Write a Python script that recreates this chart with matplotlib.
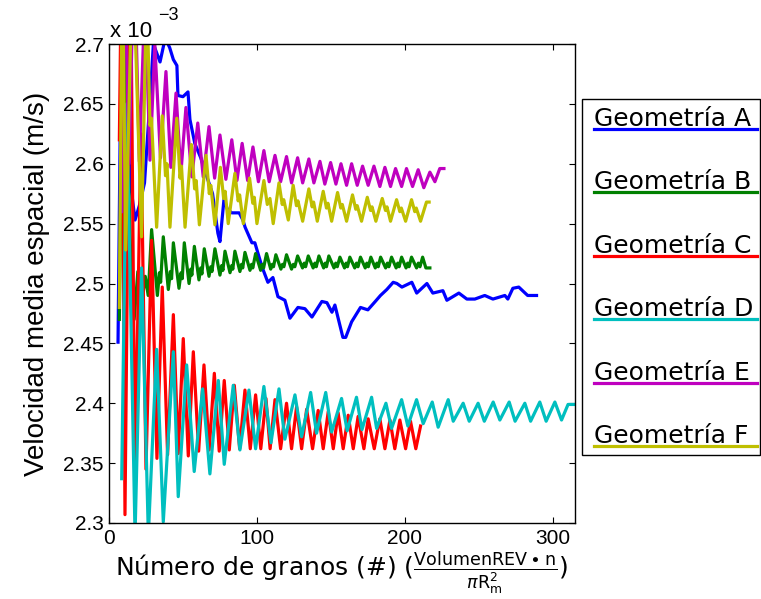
import matplotlib
matplotlib.use("Agg")
import matplotlib.pyplot as plt
from matplotlib.lines import Line2D
from matplotlib.patches import Rectangle
import numpy as np

# velocidades en unidades de 1e-3 m/s
A_x = [6.1, 7.5, 9.0, 11.0, 14.0, 17.6, 20.5, 24.0, 27.0, 30.0, 34.5, 38.0, 41.0, 43.5, 45.9,
       46.6, 50.0, 53.4, 54.7, 58.0, 62.0, 67.0, 70.0, 73.6, 75.0, 77.7, 80.0, 83.0, 88.0, 90.5,
       92.0, 96.6, 98.6, 103.4, 107.4, 110.8, 114.2, 118.9, 122.3, 127.7, 132.4, 137.2, 143.9,
       147.3, 150.7, 152.7, 154.7, 158.1, 160.0, 164.0, 170.0, 175.0, 180.0, 183.5, 187.8, 192.1,
       194.6, 198.0, 204.7, 208.0, 214.9, 218.9, 225.7, 228.4, 236.5, 241.9, 247.3, 254.0, 259.5,
       267.6, 269.6, 273.0, 277.0, 283.0, 289.0]
A_y = [2.451, 2.62, 2.76, 2.74, 2.589, 2.553, 2.565, 2.584, 2.64, 2.70, 2.685, 2.705, 2.697, 2.687, 2.682,
       2.657, 2.656, 2.660, 2.637, 2.617, 2.605, 2.586, 2.575, 2.542, 2.535, 2.570, 2.562, 2.559, 2.559, 2.553,
       2.547, 2.534, 2.534, 2.514, 2.501, 2.505, 2.489, 2.486, 2.471, 2.480, 2.479, 2.472, 2.485,
       2.484, 2.476, 2.482, 2.472, 2.455, 2.455, 2.468, 2.480, 2.478, 2.485, 2.490, 2.495, 2.501,
       2.500, 2.497, 2.501, 2.492, 2.500, 2.492, 2.494, 2.486, 2.492, 2.487, 2.487, 2.490, 2.487,
       2.490, 2.487, 2.496, 2.497, 2.490, 2.490]

B_x = [7.0, 9.5, 14.5, 17.0, 19.5, 21.5, 24.5, 26.5,
       28.8, 32.7, 34.1, 34.9, 36.7, 40.1, 41.5, 42.3, 43.5, 47.3, 48.7, 49.5,
       50.9, 54.1, 55.3, 56.0, 57.7, 60.8, 62.0, 62.8, 64.4, 67.6, 68.8, 69.6,
       71.6, 75.0, 76.2, 77.0, 78.4, 81.8, 83.0, 83.7, 85.1, 88.5, 89.6, 90.4,
       91.9, 95.3, 96.4, 97.2, 99.1, 102.5, 103.6, 104.5, 106.5, 109.3, 110.4, 111.2,
       112.8, 116.2, 117.3, 118.2, 120.0, 123.4, 124.6, 125.6, 127.5, 130.8, 132.0, 132.9,
       134.7, 138.0, 139.2, 140.1, 141.9, 145.1, 146.2, 147.0, 148.6, 152.1, 153.3, 154.3,
       156.1, 159.2, 160.3, 161.2, 162.8, 166.1, 167.3, 168.3, 170.0, 173.2, 174.3, 175.3,
       177.0, 180.0, 181.1, 182.0, 183.6, 187.0, 188.2, 189.2, 191.0, 194.1, 195.2, 196.1,
       197.8, 200.8, 201.9, 202.8, 204.5, 207.9, 209.1, 210.2, 212.0, 214.2, 216.9]
B_y = [2.47, 2.75, 2.53, 2.47, 2.51, 2.478, 2.506, 2.49,
       2.545, 2.490, 2.509, 2.501, 2.539, 2.495, 2.510, 2.504, 2.534, 2.496, 2.509, 2.504,
       2.534, 2.500, 2.512, 2.507, 2.531, 2.503, 2.513, 2.508, 2.529, 2.506, 2.514, 2.510,
       2.529, 2.507, 2.515, 2.511, 2.527, 2.509, 2.515, 2.512, 2.527, 2.510, 2.516, 2.513,
       2.526, 2.511, 2.516, 2.513, 2.525, 2.511, 2.516, 2.513, 2.525, 2.512, 2.516, 2.514,
       2.524, 2.512, 2.516, 2.514, 2.524, 2.512, 2.516, 2.514, 2.523, 2.513, 2.517, 2.514,
       2.523, 2.513, 2.517, 2.514, 2.523, 2.513, 2.517, 2.514, 2.523, 2.513, 2.517, 2.514,
       2.522, 2.513, 2.517, 2.514, 2.522, 2.513, 2.517, 2.514, 2.522, 2.513, 2.517, 2.514,
       2.522, 2.513, 2.517, 2.514, 2.522, 2.513, 2.517, 2.514, 2.522, 2.513, 2.517, 2.514,
       2.522, 2.513, 2.517, 2.514, 2.522, 2.513, 2.517, 2.514, 2.522, 2.513, 2.513]

C_x = [7.0, 8.5, 10.8, 14.5, 17.6, 21.6, 25.0, 28.8, 32.4, 36.0, 39.6, 43.5, 46.8, 50.2, 53.6,
       57.0, 60.6, 64.2, 67.7, 71.2, 74.5, 77.9, 81.3, 84.7, 88.3, 91.9, 95.5, 99.1, 102.6,
       106.1, 108.9, 112.2, 116.0, 120.0, 123.4, 126.8, 130.2, 133.6, 137.6, 141.4, 144.8,
       148.2, 151.6, 154.9, 158.3, 161.7, 165.1, 168.4, 172.3, 175.2, 179.3, 183.1, 186.5,
       189.9, 193.2, 196.6, 200.5, 203.8, 207.4, 210.6]
C_y = [2.62, 2.78, 2.307, 2.78, 2.340, 2.625, 2.345, 2.536, 2.354, 2.497, 2.357, 2.474, 2.358, 2.454, 2.356,
       2.443, 2.360, 2.432, 2.361, 2.425, 2.360, 2.419, 2.361, 2.415, 2.362, 2.411, 2.362, 2.407, 2.362,
       2.404, 2.362, 2.403, 2.362, 2.400, 2.362, 2.397, 2.362, 2.395, 2.362, 2.394, 2.362,
       2.393, 2.362, 2.392, 2.362, 2.390, 2.362, 2.389, 2.362, 2.387, 2.362, 2.387, 2.362,
       2.386, 2.362, 2.386, 2.362, 2.385, 2.362, 2.381]

D_x = [8.6, 12.0, 17.6, 22.0, 26.6, 32.2, 36.7, 43.5, 46.8, 52.5, 57.6, 63.3, 68.2, 73.9, 77.9,
       84.0, 88.5, 94.6, 99.1, 104.7, 109.5, 114.9, 118.9, 125.7, 130.2, 136.3, 140.3, 146.5,
       150.5, 157.2, 161.0, 167.3, 171.0, 177.5, 180.9, 187.2, 191.0, 197.8, 202.0, 207.9,
       212.4, 218.5, 222.5, 229.3, 232.7, 239.4, 243.5, 249.5, 253.7, 259.7, 264.2, 270.5,
       274.5, 281.1, 285.0, 291.2, 295.5, 301.4, 305.9, 310.3, 314.9]
D_y = [2.337, 2.65, 2.29, 2.513, 2.29, 2.445, 2.301, 2.443, 2.322, 2.432, 2.343, 2.412, 2.341, 2.419, 2.349,
       2.415, 2.361, 2.411, 2.362, 2.414, 2.367, 2.412, 2.370, 2.407, 2.372, 2.409, 2.375, 2.409,
       2.376, 2.404, 2.377, 2.405, 2.378, 2.405, 2.379, 2.400, 2.379, 2.403, 2.381, 2.403,
       2.383, 2.401, 2.380, 2.403, 2.385, 2.400, 2.385, 2.400, 2.385, 2.401, 2.386, 2.401,
       2.385, 2.400, 2.385, 2.401, 2.385, 2.401, 2.386, 2.399, 2.399]

E_x = [8.5, 10.5, 13.5, 17.0, 20.5, 24.3, 27.7, 31.0, 34.8, 38.5, 41.8, 45.3, 48.6, 52.0, 56.0,
       60.0, 63.7, 67.6, 71.4, 75.0, 79.0, 83.0, 86.5, 90.0, 93.7, 97.3, 101.0, 104.7, 108.3,
       112.2, 116.0, 120.0, 123.4, 127.5, 130.9, 135.1, 138.5, 142.6, 145.9, 149.8, 153.4,
       156.8, 160.6, 164.0, 167.8, 171.4, 175.2, 179.1, 183.1, 186.5, 190.3, 193.7, 197.8,
       201.1, 205.2, 209.0, 212.8, 216.9, 220.3, 223.6, 226.4]
E_y = [2.56, 2.78, 2.60, 2.78, 2.602, 2.74, 2.603, 2.699, 2.605, 2.677, 2.597, 2.659, 2.592, 2.647, 2.589,
       2.634, 2.589, 2.631, 2.588, 2.624, 2.587, 2.620, 2.586, 2.617, 2.586, 2.614, 2.585, 2.611, 2.585,
       2.607, 2.585, 2.606, 2.584, 2.605, 2.584, 2.604, 2.584, 2.602, 2.583, 2.601, 2.583,
       2.600, 2.582, 2.600, 2.582, 2.598, 2.582, 2.598, 2.581, 2.597, 2.581, 2.596, 2.581,
       2.596, 2.581, 2.595, 2.580, 2.593, 2.585, 2.596, 2.596]

F_x = [7.0, 9.0, 11.3, 16.0, 22.0,
       25.5, 27.7, 28.7, 32.2, 36.0, 38.2, 39.2, 41.2, 45.8, 48.0, 49.0, 51.4,
       55.7, 57.9, 58.9, 61.1, 65.6, 67.8, 68.8, 71.6, 75.3, 77.5, 78.5, 80.6,
       85.1, 87.3, 88.3, 90.8, 95.0, 97.2, 98.2, 100.0, 104.7, 107.0, 108.8, 111.0,
       114.9, 117.1, 118.1, 121.2, 124.5, 126.7, 127.7, 130.9, 135.1, 137.3, 138.3, 140.8,
       144.8, 147.0, 148.0, 150.5, 154.5, 156.7, 157.7, 160.6, 164.6, 166.8, 167.8, 170.7,
       174.6, 176.8, 177.8, 180.4, 184.7, 186.9, 187.9, 190.3, 194.4, 196.6, 197.6, 200.5,
       204.5, 206.7, 207.7, 210.6, 214.6, 216.4]
F_y = [2.48, 2.78, 2.528, 2.78, 2.539,
       2.750, 2.632, 2.638, 2.547, 2.640, 2.590, 2.600, 2.547, 2.638, 2.588, 2.598, 2.547,
       2.616, 2.579, 2.586, 2.549, 2.607, 2.575, 2.582, 2.549, 2.597, 2.571, 2.577, 2.550,
       2.592, 2.569, 2.574, 2.550, 2.588, 2.567, 2.572, 2.550, 2.586, 2.566, 2.571, 2.550,
       2.584, 2.566, 2.570, 2.553, 2.582, 2.565, 2.569, 2.552, 2.579, 2.564, 2.568, 2.552,
       2.577, 2.563, 2.567, 2.552, 2.576, 2.563, 2.566, 2.552, 2.574, 2.562, 2.565, 2.552,
       2.572, 2.561, 2.564, 2.552, 2.571, 2.561, 2.564, 2.552, 2.570, 2.560, 2.563, 2.552,
       2.570, 2.560, 2.563, 2.552, 2.568, 2.568]

series = [(A_x, A_y), (B_x, B_y), (C_x, C_y), (D_x, D_y), (E_x, E_y), (F_x, F_y)]
names = ['Geometría A', 'Geometría B', 'Geometría C', 'Geometría D', 'Geometría E', 'Geometría F']
colores = ['#0000ff', '#008000', '#ff0000', '#00bfbf', '#bf00bf', '#bfbf00']

x_ticks = [0, 100, 200, 300]
y_ticks = [2.3, 2.35, 2.4, 2.45, 2.5, 2.55, 2.6, 2.65, 2.7]

W, H = 761, 599
fig = plt.figure(figsize=(W / 100, H / 100), dpi=100)
ax = fig.add_axes([109 / W, 1 - 523 / H, 466 / W, 479 / H])

for (xs, ys), c in zip(series, colores):
    ax.plot(xs, ys, color=c, lw=2.3, solid_joinstyle='round')

ax.set_xlim(0, 315)
ax.set_ylim(2.3, 2.7)
ax.set_xticks(x_ticks)
ax.set_yticks(y_ticks)
ax.set_xticklabels(['%g' % v for v in x_ticks], fontfamily='Liberation Sans', fontsize=15)
ax.set_yticklabels(['%g' % v for v in y_ticks], fontfamily='Liberation Sans', fontsize=15)
ax.tick_params(direction='in', length=4, width=0.8, top=True, right=True, pad=4)
for s in ax.spines.values():
    s.set_linewidth(1.0)

ax.set_ylabel('Velocidad media espacial (m/s)', fontfamily='Liberation Sans', fontsize=20, labelpad=9)
ax.set_xlabel(r'Número de granos (#) ($\frac{\mathrm{VolumenREV}\bullet\mathrm{n}}{\pi\mathrm{R}_\mathrm{m}^2}$)',
              fontfamily='DejaVu Sans', fontsize=18, labelpad=2)

# factor de escala del eje y
fig.text(110 / W, 1 - 37 / H, 'x 10', fontfamily='Liberation Sans', fontsize=16, va='baseline')
fig.text(158 / W, 1 - 20 / H, '\u22123', fontfamily='Liberation Sans', fontsize=13, va='baseline')

# leyenda
fig.add_artist(Rectangle((582 / W, 1 - 455 / H), 178 / W, 356 / H, transform=fig.transFigure,
                         facecolor='white', edgecolor='black', lw=1.0))
for i, (n, c) in enumerate(zip(names, colores)):
    yl = 129 + i * 63.4
    fig.text(594 / W, 1 - (yl - 3) / H, n, fontfamily='DejaVu Sans', fontsize=18, va='baseline')
    fig.add_artist(Line2D([594 / W, 757 / W], [1 - yl / H] * 2, transform=fig.transFigure,
                          color=c, lw=2.3))

fig.savefig('out.png', dpi=100)
